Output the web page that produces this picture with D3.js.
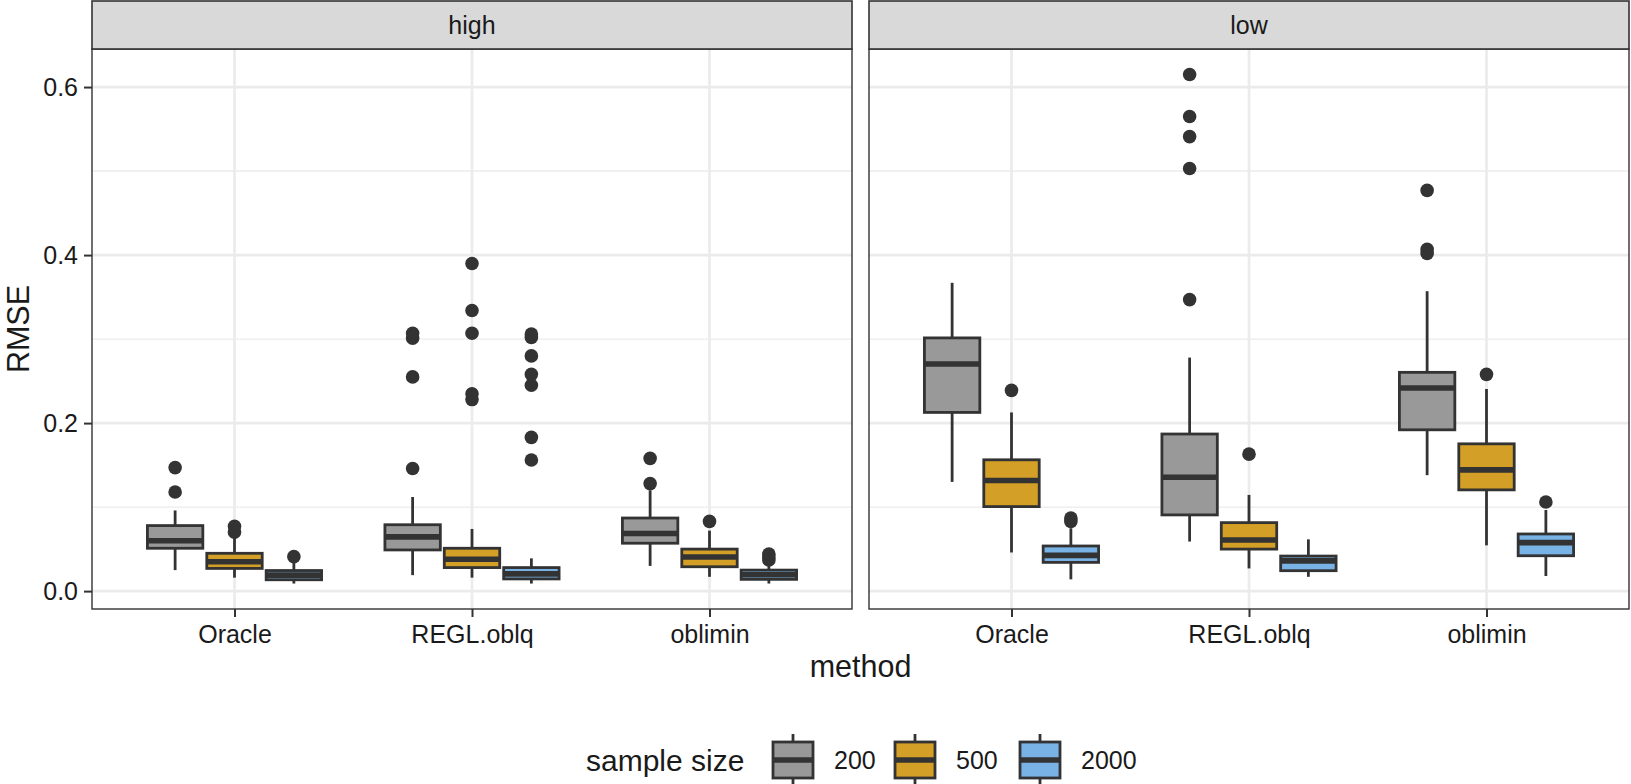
<!DOCTYPE html>
<html>
<head>
<meta charset="UTF-8">
<title>RMSE by method</title>
<script src="https://cdnjs.cloudflare.com/ajax/libs/d3/7.8.5/d3.min.js"></script>
<style>
  body { margin: 0; background: #fff; }
  svg { display: block; font-family: "Liberation Sans", Arial, Helvetica, sans-serif; }
</style>
</head>
<body>
<svg id="chart" width="1631" height="784"></svg>
<script>
// facets, categories and groups
const panels = ["high", "low"];
const methods = ["Oracle", "REGL.oblq", "oblimin"];
const sizes = ["200", "500", "2000"];
const sizeColors = ["#999999", "#D49F27", "#79B3E5"];
const yTicks = [0.0, 0.2, 0.4, 0.6];
const yMinor = [0.1, 0.3, 0.5];

// box stats per panel: [method][size] = [lower whisker, q1, median, q3, upper whisker]
const statsHigh = [
  [[0.025, 0.051, 0.060, 0.078, 0.096], [0.016, 0.027, 0.035, 0.045, 0.064], [0.009, 0.0135, 0.019, 0.0245, 0.034]],
  [[0.019, 0.049, 0.0645, 0.079, 0.112], [0.016, 0.028, 0.038, 0.051, 0.074], [0.009, 0.0145, 0.0205, 0.028, 0.039]],
  [[0.030, 0.057, 0.0685, 0.087, 0.120], [0.017, 0.029, 0.0406, 0.050, 0.072], [0.009, 0.014, 0.0195, 0.025, 0.031]]
];
const outliersHigh = [
  [[0.147, 0.118], [0.077, 0.070], [0.041]],
  [[0.146, 0.255, 0.301, 0.307], [0.228, 0.235, 0.307, 0.334, 0.390], [0.156, 0.183, 0.245, 0.258, 0.280, 0.302, 0.306]],
  [[0.128, 0.158], [0.083], [0.037, 0.040, 0.044]]
];
const statsLow = [
  [[0.130, 0.2127, 0.2704, 0.3014, 0.367], [0.046, 0.1006, 0.1316, 0.1563, 0.2127], [0.014, 0.0342, 0.0425, 0.0537, 0.0748]],
  [[0.059, 0.0907, 0.1356, 0.187, 0.278], [0.027, 0.050, 0.0608, 0.0815, 0.1145], [0.017, 0.0243, 0.036, 0.0417, 0.0616]],
  [[0.138, 0.192, 0.2417, 0.2604, 0.357], [0.0545, 0.1205, 0.1443, 0.1753, 0.2406], [0.018, 0.0421, 0.0577, 0.068, 0.0966]]
];
const outliersLow = [
  [[], [0.239], [0.083, 0.087]],
  [[0.347, 0.503, 0.541, 0.565, 0.615], [0.163], []],
  [[0.402, 0.407, 0.477], [0.258], [0.106]]
];
const panelStats = [statsHigh, statsLow];
const panelOutliers = [outliersHigh, outliersLow];

// layout
const panelX = [[92, 852], [869, 1629]];
const stripTop = 1, panelTop = 49, panelBottom = 609;
const ink = "#333333", textCol = "#1a1a1a";
const lw = 2.8;

const svg = d3.select("#chart");

// y scale with ggplot-like 5% expansion over all values
const allVals = [];
panelStats.forEach((p, i) => p.forEach((m, j) => m.forEach((s, k) => {
  allVals.push(s[0], s[4], ...panelOutliers[i][j][k]);
})));
const lo = d3.min(allVals), hi = d3.max(allVals), pad = (hi - lo) * 0.05;
const y = d3.scaleLinear().domain([lo - pad, hi + pad]).range([panelBottom, panelTop]);

const color = d3.scaleOrdinal().domain(sizes).range(sizeColors);

panels.forEach((name, pi) => {
  const [x0, x1] = panelX[pi];
  const x = d3.scalePoint().domain(methods).range([x0, x1]).padding(0.6);
  const step = x.step();
  const dodge = d3.scaleBand().domain(sizes).range([-0.375 * step, 0.375 * step]);
  const boxW = step * 0.7 / 3;
  const g = svg.append("g");

  // grid
  g.selectAll(".minor").data(yMinor).join("line")
    .attr("x1", x0).attr("x2", x1).attr("y1", d => y(d)).attr("y2", d => y(d))
    .attr("stroke", "#EBEBEB").attr("stroke-width", 1.4);
  g.selectAll(".major").data(yTicks).join("line")
    .attr("x1", x0).attr("x2", x1).attr("y1", d => y(d)).attr("y2", d => y(d))
    .attr("stroke", "#EBEBEB").attr("stroke-width", 2.7);
  g.selectAll(".vgrid").data(methods).join("line")
    .attr("x1", d => x(d)).attr("x2", d => x(d)).attr("y1", panelTop).attr("y2", panelBottom)
    .attr("stroke", "#EBEBEB").attr("stroke-width", 2.7);

  // boxes
  methods.forEach((m, mi) => {
    sizes.forEach((s, si) => {
      const st = panelStats[pi][mi][si];
      const cx = x(m) + dodge(s) + dodge.bandwidth() / 2;
      const b = g.append("g");
      b.append("line").attr("x1", cx).attr("x2", cx).attr("y1", y(st[3])).attr("y2", y(st[4]))
        .attr("stroke", ink).attr("stroke-width", lw);
      b.append("line").attr("x1", cx).attr("x2", cx).attr("y1", y(st[1])).attr("y2", y(st[0]))
        .attr("stroke", ink).attr("stroke-width", lw);
      b.append("rect").attr("x", cx - boxW / 2).attr("width", boxW)
        .attr("y", y(st[3])).attr("height", y(st[1]) - y(st[3]))
        .attr("fill", color(s)).attr("stroke", ink).attr("stroke-width", lw);
      b.append("line").attr("x1", cx - boxW / 2).attr("x2", cx + boxW / 2)
        .attr("y1", y(st[2])).attr("y2", y(st[2]))
        .attr("stroke", ink).attr("stroke-width", lw * 2);
      b.selectAll("circle").data(panelOutliers[pi][mi][si]).join("circle")
        .attr("cx", cx).attr("cy", d => y(d)).attr("r", 6.8).attr("fill", ink);
    });
  });

  // panel border and strip
  g.append("rect").attr("x", x0).attr("y", panelTop).attr("width", x1 - x0).attr("height", panelBottom - panelTop)
    .attr("fill", "none").attr("stroke", ink).attr("stroke-width", 1.4);
  g.append("rect").attr("x", x0).attr("y", stripTop).attr("width", x1 - x0).attr("height", panelTop - stripTop)
    .attr("fill", "#D9D9D9").attr("stroke", ink).attr("stroke-width", 1.6);
  g.append("text").attr("x", (x0 + x1) / 2).attr("y", (stripTop + panelTop) / 2)
    .attr("text-anchor", "middle").attr("dominant-baseline", "central")
    .attr("font-size", 25).attr("fill", textCol).text(name);

  // x axis
  const xa = g.append("g").attr("transform", `translate(0,${panelBottom})`)
    .call(d3.axisBottom(x).tickSize(8).tickPadding(8));
  xa.select(".domain").remove();
  xa.selectAll(".tick line").attr("stroke", ink).attr("stroke-width", 2);
  xa.selectAll(".tick text").attr("font-size", 25).attr("fill", textCol)
    .attr("font-family", "Liberation Sans, Arial, sans-serif");

  // y axis on first panel only
  if (pi === 0) {
    const ya = g.append("g").attr("transform", `translate(${x0},0)`)
      .call(d3.axisLeft(y).tickValues(yTicks).tickFormat(d3.format(".1f")).tickSize(8).tickPadding(6));
    ya.select(".domain").remove();
    ya.selectAll(".tick line").attr("stroke", ink).attr("stroke-width", 2);
    ya.selectAll(".tick text").attr("font-size", 25).attr("fill", textCol)
      .attr("font-family", "Liberation Sans, Arial, sans-serif");
  }
});

// axis titles
svg.append("text").attr("x", (panelX[0][0] + panelX[1][1]) / 2).attr("y", 677)
  .attr("text-anchor", "middle").attr("font-size", 30.5).attr("fill", textCol).text("method");
svg.append("text").attr("transform", `translate(29,${(panelTop + panelBottom) / 2}) rotate(-90)`)
  .attr("text-anchor", "middle").attr("font-size", 30.5).attr("fill", textCol).text("RMSE");

// legend
const lg = svg.append("g");
const legY = 760;
lg.append("text").attr("x", 586).attr("y", legY).attr("dominant-baseline", "central")
  .attr("font-size", 30).attr("fill", textCol).text("sample size");
const keyX = d3.scaleOrdinal().domain(sizes).range([773, 895, 1020]);
const keyW = 40, keyH = 36;
sizes.forEach(s => {
  const kx = keyX(s), kc = kx + keyW / 2;
  lg.append("line").attr("x1", kc).attr("x2", kc).attr("y1", legY - keyH / 2 - 8).attr("y2", legY + keyH / 2 + 8)
    .attr("stroke", ink).attr("stroke-width", lw);
  lg.append("rect").attr("x", kx).attr("y", legY - keyH / 2).attr("width", keyW).attr("height", keyH)
    .attr("fill", color(s)).attr("stroke", ink).attr("stroke-width", lw);
  lg.append("line").attr("x1", kx).attr("x2", kx + keyW).attr("y1", legY).attr("y2", legY)
    .attr("stroke", ink).attr("stroke-width", lw * 2);
  lg.append("text").attr("x", kx + keyW + 21).attr("y", legY).attr("dominant-baseline", "central")
    .attr("font-size", 25).attr("fill", textCol).text(s);
});
</script>
</body>
</html>
